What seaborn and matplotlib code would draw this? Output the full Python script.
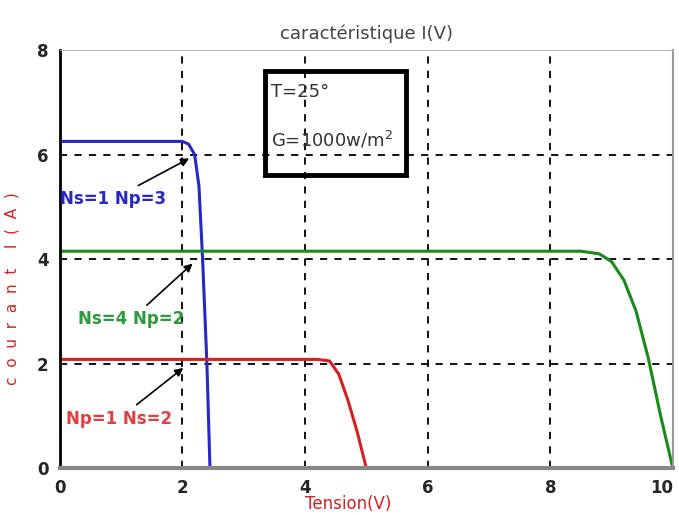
import numpy as np
import pandas as pd
import matplotlib
matplotlib.use("Agg")
import matplotlib.pyplot as plt
import seaborn as sns
from matplotlib.patches import Rectangle

# Data
blue_v = [0.0, 1.0, 2.0, 2.1, 2.2, 2.27, 2.33, 2.4, 2.45]
blue_i = [6.25, 6.25, 6.25, 6.2, 6.0, 5.4, 4.0, 2.0, 0.0]
green_v = [0.0, 4.0, 8.5, 8.8, 9.0, 9.2, 9.4, 9.6, 9.8, 10.0]
green_i = [4.15, 4.15, 4.15, 4.1, 3.95, 3.6, 3.0, 2.1, 1.0, 0.0]
red_v = [0.0, 2.0, 4.2, 4.4, 4.55, 4.7, 4.85, 5.0]
red_i = [2.08, 2.08, 2.08, 2.05, 1.8, 1.3, 0.7, 0.0]
series_labels = ["Ns=1 Np=3", "Ns=4 Np=2", "Np=1 Ns=2"]
x_ticks = [0, 2, 4, 6, 8, 10]
y_ticks = [0, 2, 4, 6, 8]

sns.set_style("white")
plt.rcParams['font.family'] = ['DejaVu Sans']

df = pd.concat([
    pd.DataFrame({"V": blue_v, "I": blue_i, "s": series_labels[0]}),
    pd.DataFrame({"V": green_v, "I": green_i, "s": series_labels[1]}),
    pd.DataFrame({"V": red_v, "I": red_i, "s": series_labels[2]}),
])

fig = plt.figure(figsize=(6.79, 5.15), dpi=100)
ax = fig.add_axes([0.088, 0.091, 0.903, 0.812])
palette = {series_labels[0]: "#2828c8", series_labels[1]: "#1a8a1a", series_labels[2]: "#d42020"}
sns.lineplot(data=df, x="V", y="I", hue="s", palette=palette, sort=False,
             estimator=None, linewidth=2.2, legend=False, ax=ax)

ax.set_xlim(0, 10)
ax.set_ylim(0, 8)
ax.set_xticks(x_ticks)
ax.set_yticks(y_ticks)
ax.set_xticklabels([str(t) for t in x_ticks], fontsize=12, fontweight='bold')
ax.set_yticklabels([str(t) for t in y_ticks], fontsize=12, fontweight='bold')
ax.get_xticklabels()[-1].set_horizontalalignment('right')
ax.tick_params(axis='both', length=0, pad=8)
for t in [2, 4, 6, 8]:
    ax.axvline(t, color='black', linestyle=(0, (4, 4)), linewidth=1.3, zorder=0)
for t in [2, 4, 6]:
    ax.axhline(t, color='black', linestyle=(0, (4, 4)), linewidth=1.3, zorder=0)

ax.spines['left'].set_color('black')
ax.spines['left'].set_linewidth(2)
ax.spines['top'].set_color('#bbbbbb')
ax.spines['right'].set_color('#999999')
ax.spines['right'].set_linewidth(1.5)
ax.spines['bottom'].set_color('#888888')
ax.spines['bottom'].set_linewidth(3)

ax.set_title("caractéristique I(V)", fontsize=13, color='#444444', pad=8)
ax.set_xlabel("Tension(V)", color='#d42020', fontsize=12)
ax.xaxis.set_label_coords(0.47, -0.065)
ax.set_ylabel("c  o  u  r  a  n  t    I  (  A  )", color='#d42020', fontsize=11)
ax.yaxis.set_label_coords(-0.065, 0.43)

# text box
ax.text(3.45, 7.2, "T=25°", fontsize=13, color='#333333', va='center')
ax.text(3.45, 6.28, "G=1000w/m$^2$", fontsize=13, color='#333333', va='center')
ax.add_patch(Rectangle((3.35, 5.6), 2.3, 2.0, fill=False, edgecolor='black',
                       linewidth=3.5, zorder=5))

# annotations
ax.annotate(series_labels[0], xy=(2.15, 5.95), xytext=(0.0, 5.05),
            color='#2828c8', fontsize=12, fontweight='bold',
            arrowprops=dict(arrowstyle='-|>', color='black', lw=1.2))
ax.annotate(series_labels[1], xy=(2.2, 3.95), xytext=(0.3, 2.75),
            color='#2a9a3a', fontsize=12, fontweight='bold',
            arrowprops=dict(arrowstyle='-|>', color='black', lw=1.2))
ax.annotate(series_labels[2], xy=(2.05, 1.95), xytext=(0.1, 0.85),
            color='#e04040', fontsize=12, fontweight='bold',
            arrowprops=dict(arrowstyle='-|>', color='black', lw=1.2))

fig.savefig("out.png", dpi=100)
